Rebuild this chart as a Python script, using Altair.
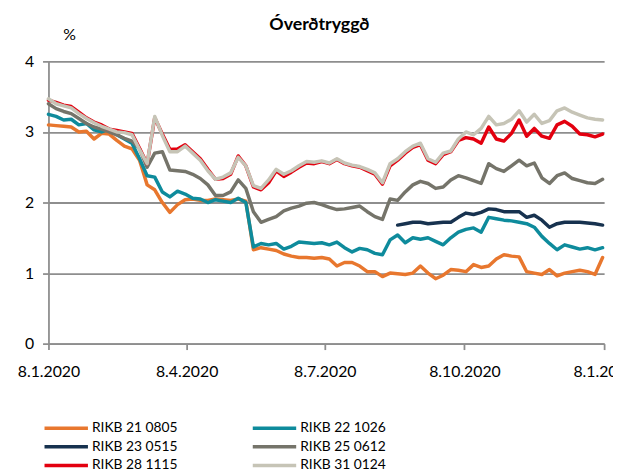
import altair as alt
import pandas as pd

names = ["RIKB 21 0805", "RIKB 22 1026", "RIKB 23 0515",
         "RIKB 25 0612", "RIKB 28 1115", "RIKB 31 0124"]
colors = ["#E8772E", "#0E8B9C", "#17324F", "#75746A", "#E3000F", "#C6C4B6"]

# sample dates every 5 days from 8.1.2020
dates = pd.date_range("2020-01-08", periods=74, freq="5D")

rikb21 = [3.10, 3.09, 3.08, 3.07, 3.00, 3.01, 2.90, 2.98, 2.97, 2.88,
          2.80, 2.76, 2.60, 2.25, 2.18, 2.00, 1.86, 1.97, 2.04, 2.05,
          2.03, 2.03, 2.05, 2.04, 2.03, 2.05, 2.02, 1.33, 1.36, 1.34,
          1.32, 1.27, 1.24, 1.22, 1.22, 1.21, 1.22, 1.20, 1.10, 1.15,
          1.15, 1.10, 1.02, 1.02, 0.95, 1.00, 0.99, 0.98, 1.00, 1.10,
          1.00, 0.92, 0.97, 1.05, 1.04, 1.02, 1.12, 1.08, 1.10, 1.20,
          1.26, 1.24, 1.23, 1.02, 1.00, 0.98, 1.05, 0.96, 1.00, 1.02,
          1.04, 1.02, 0.98, 1.22]
rikb22 = [3.25, 3.22, 3.17, 3.18, 3.10, 3.12, 3.03, 3.00, 3.04, 2.96,
          2.90, 2.84, 2.62, 2.38, 2.36, 2.15, 2.08, 2.16, 2.12, 2.06,
          2.05, 2.00, 2.04, 2.02, 2.00, 2.06, 2.00, 1.37, 1.42, 1.40,
          1.42, 1.34, 1.38, 1.44, 1.43, 1.42, 1.43, 1.40, 1.44, 1.36,
          1.30, 1.35, 1.33, 1.28, 1.26, 1.47, 1.54, 1.43, 1.50, 1.48,
          1.50, 1.45, 1.40, 1.50, 1.58, 1.62, 1.64, 1.58, 1.79, 1.77,
          1.75, 1.74, 1.72, 1.70, 1.65, 1.52, 1.42, 1.33, 1.40, 1.37,
          1.34, 1.36, 1.33, 1.36]
rikb23 = [None] * 46 + [
          1.68, 1.70, 1.72, 1.72, 1.70, 1.71, 1.72, 1.72, 1.79, 1.85,
          1.83, 1.86, 1.91, 1.90, 1.87, 1.87, 1.87, 1.79, 1.82, 1.75,
          1.65, 1.70, 1.72, 1.72, 1.72, 1.71, 1.70, 1.68]
rikb25 = [3.40, 3.33, 3.29, 3.26, 3.19, 3.12, 3.07, 3.04, 3.00, 2.96,
          2.91, 2.87, 2.76, 2.50, 2.70, 2.72, 2.46, 2.45, 2.44, 2.40,
          2.34, 2.25, 2.10, 2.10, 2.15, 2.32, 2.20, 1.87, 1.72, 1.76,
          1.80, 1.88, 1.92, 1.95, 1.99, 2.00, 1.97, 1.93, 1.90, 1.91,
          1.93, 1.95, 1.87, 1.80, 1.76, 2.05, 2.03, 2.15, 2.25, 2.30,
          2.27, 2.20, 2.22, 2.32, 2.38, 2.35, 2.31, 2.27, 2.55, 2.48,
          2.44, 2.52, 2.60, 2.52, 2.56, 2.35, 2.27, 2.38, 2.42, 2.34,
          2.31, 2.28, 2.27, 2.33]
rikb28 = [3.45, 3.42, 3.38, 3.36, 3.28, 3.20, 3.14, 3.10, 3.04, 3.02,
          3.00, 2.98, 2.77, 2.55, 3.20, 2.97, 2.75, 2.76, 2.82, 2.72,
          2.62, 2.47, 2.33, 2.34, 2.40, 2.66, 2.52, 2.22, 2.18, 2.28,
          2.45, 2.37, 2.43, 2.50, 2.56, 2.55, 2.58, 2.55, 2.61, 2.55,
          2.52, 2.50, 2.45, 2.40, 2.26, 2.52, 2.60, 2.70, 2.78, 2.82,
          2.60, 2.55, 2.68, 2.72, 2.88, 2.92, 2.90, 2.84, 3.07, 2.90,
          2.87, 2.98, 3.17, 2.94, 3.05, 2.94, 2.91, 3.10, 3.15, 3.08,
          2.97, 2.96, 2.93, 2.97]
rikb31 = [3.47, 3.40, 3.37, 3.34, 3.26, 3.19, 3.13, 3.08, 3.04, 3.00,
          2.99, 2.96, 2.75, 2.55, 3.22, 2.95, 2.72, 2.72, 2.80, 2.70,
          2.60, 2.45, 2.33, 2.36, 2.42, 2.64, 2.52, 2.24, 2.20, 2.32,
          2.47, 2.40, 2.45, 2.52, 2.58, 2.57, 2.59, 2.56, 2.62, 2.56,
          2.53, 2.51, 2.47, 2.42, 2.28, 2.55, 2.62, 2.72, 2.80, 2.84,
          2.62, 2.57, 2.70, 2.73, 2.90, 3.00, 2.96, 3.05, 3.22, 3.10,
          3.12, 3.18, 3.30, 3.14, 3.25, 3.12, 3.16, 3.30, 3.34, 3.28,
          3.24, 3.20, 3.18, 3.17]

series_values = [rikb21, rikb22, rikb23, rikb25, rikb28, rikb31]

rows = []
for name, vals in zip(names, series_values):
    for d, v in zip(dates, vals):
        if v is not None:
            rows.append({"date": d.strftime("%Y-%m-%dT00:00:00"), "series": name, "value": v})
df = pd.DataFrame(rows)

tick_dates = [alt.DateTime(year=2020, month=1, date=8),
              alt.DateTime(year=2020, month=4, date=8),
              alt.DateTime(year=2020, month=7, date=8),
              alt.DateTime(year=2020, month=10, date=8),
              alt.DateTime(year=2021, month=1, date=8)]
y_ticks = [0, 1, 2, 3, 4]

FONT = "Lato"
GRID = "#8E8E8E"

x_enc = alt.X("date:T",
              scale=alt.Scale(domain=[tick_dates[0], tick_dates[-1]]),
              axis=alt.Axis(values=tick_dates, format="%-d.%-m.%Y", title=None,
                            grid=False, tickSize=6, tickWidth=1.8, tickColor=GRID,
                            domainColor=GRID, domainWidth=1.8,
                            labelPadding=14, labelFlush=False, labelOverlap=False,
                            labelFontSize=16, labelFont=FONT, labelColor="#000"))
y_enc = alt.Y("value:Q",
              scale=alt.Scale(domain=[0, 4], nice=False, zero=True),
              axis=alt.Axis(values=y_ticks, title="%", titleAngle=0,
                            titleX=21, titleY=-22, titleAlign="center",
                            titleBaseline="alphabetic", titleFontWeight="normal",
                            titleFontSize=16, titleFont=FONT, titleColor="#000",
                            grid=True, gridColor=GRID, gridWidth=1.8,
                            tickSize=6, tickWidth=1.8, tickColor=GRID,
                            domainColor=GRID, domainWidth=1.8,
                            labelPadding=9, labelFontSize=16, labelFont=FONT,
                            labelColor="#000"))
color_enc = alt.Color("series:N",
                      scale=alt.Scale(domain=names, range=colors),
                      legend=alt.Legend(title=None, orient="none", legendX=-11.5, legendY=364,
                                        direction="horizontal", columns=2,
                                        symbolType="M0,0H8", symbolSize=121,
                                        symbolStrokeWidth=3.5, labelFont=FONT,
                                        labelFontSize=14, labelColor="#000",
                                        labelOffset=40.5, rowPadding=4, columnPadding=68,
                                        padding=0))

layers = []
for name in names:
    layers.append(
        alt.Chart(df).transform_filter(alt.datum.series == name)
        .mark_line(strokeWidth=3.5, strokeJoin="round", strokeCap="round")
        .encode(x=x_enc, y=y_enc, color=color_enc)
    )

chart = alt.layer(*layers).properties(
    width=563, height=286,
    title=alt.Title("Óverðtryggð", fontSize=18, fontWeight="bold", font=FONT,
                    color="#000", anchor="middle", dx=-7, dy=11),
    padding={"left": 41, "top": 51, "right": 9, "bottom": 130},
    autosize=alt.AutoSizeParams(type="none"),
).configure_view(stroke=None)

chart.save("out.html", embed_options={"renderer": "svg", "actions": False})
